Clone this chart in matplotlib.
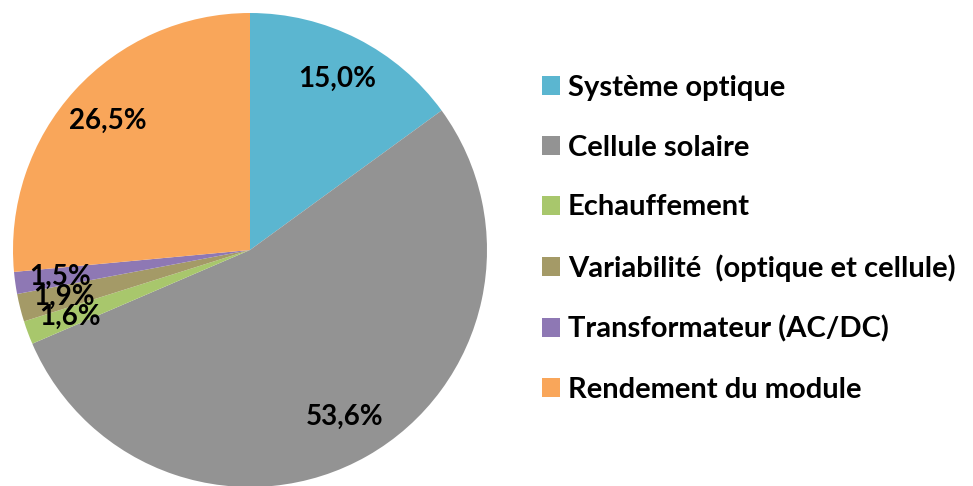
import matplotlib.pyplot as plt

labels = ['Système optique', 'Cellule solaire', 'Echauffement',
          'Variabilité  (optique et cellule)', 'Transformateur (AC/DC)',
          'Rendement du module']
values = [15.0, 53.6, 1.6, 1.9, 1.5, 26.5]
pct_text = ['15,0%', '53,6%', '1,6%', '1,9%', '1,5%', '26,5%']
colors = ['#5BB6D0', '#939393', '#A8C76C', '#A49A67', '#8E78B4', '#F9A65A']

plt.rcParams['font.family'] = ['Lato', 'DejaVu Sans']

fig = plt.figure(figsize=(9.73, 4.86), dpi=100)
ax = fig.add_axes([13/973, -1/486, 474/973, 474/486])

wedges, texts = ax.pie(values, colors=colors, startangle=90, counterclock=False,
                       labels=pct_text, labeldistance=0.81,
                       wedgeprops=dict(linewidth=0))
for t in texts:
    t.set_ha('center')
    t.set_va('center')
    t.set_fontsize(20)
    t.set_fontweight('bold')
ax.set_xlim(-1, 1)
ax.set_ylim(-1, 1)
ax.set_aspect('equal')

fig.legend(wedges, labels, loc='center left', bbox_to_anchor=(542/973, 0.509),
           frameon=False, prop=dict(size=21, weight='bold'),
           handlelength=0.62, handleheight=0.62, handletextpad=0.27,
           labelspacing=1.16, borderpad=0, borderaxespad=0)

fig.savefig('out.png', dpi=100)
